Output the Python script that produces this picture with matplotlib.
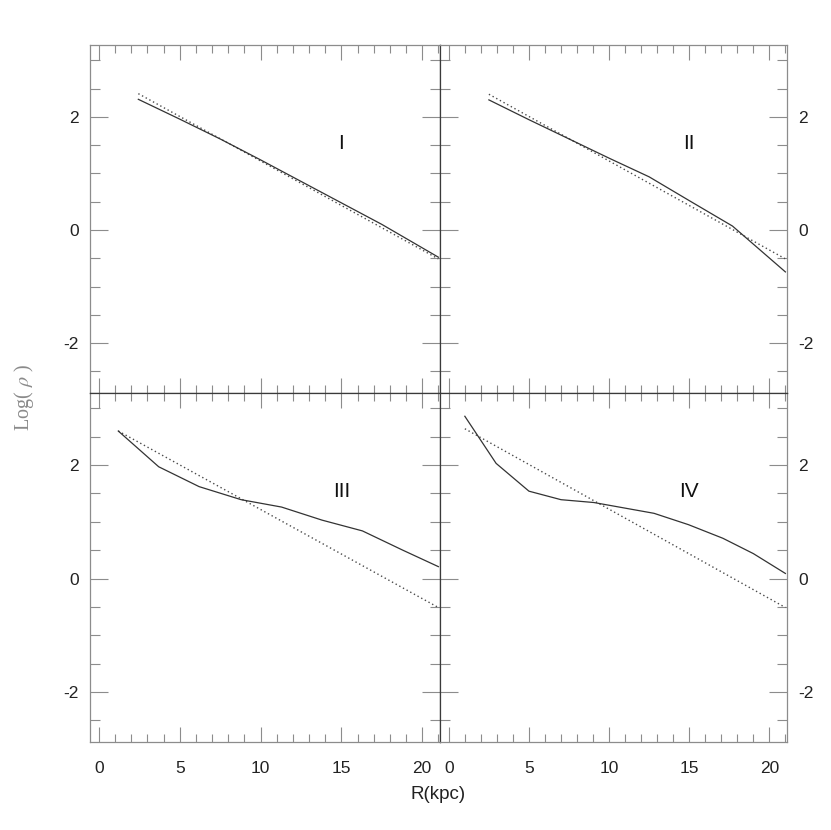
import matplotlib
matplotlib.use("Agg")
import matplotlib.pyplot as plt
from matplotlib.ticker import MultipleLocator

plt.rcParams['axes.unicode_minus'] = False
plt.rcParams['mathtext.fontset'] = 'stix'

panel_names = ["I", "II", "III", "IV"]

# solid curves (model profiles)
r_I = [2.44, 5.0, 7.5, 10.0, 12.5, 15.0, 17.5, 21.0]
rho_I = [2.31, 1.96, 1.61, 1.24, 0.86, 0.48, 0.10, -0.48]

r_II = [2.5, 5.0, 7.5, 10.0, 12.5, 15.0, 17.7, 21.0]
rho_II = [2.30, 1.95, 1.61, 1.27, 0.94, 0.52, 0.07, -0.74]

r_III = [1.2, 3.7, 6.2, 8.8, 11.3, 13.8, 16.3, 18.8, 21.0]
rho_III = [2.60, 1.97, 1.62, 1.39, 1.26, 1.03, 0.84, 0.50, 0.21]

r_IV = [1.0, 2.95, 5.0, 7.0, 9.05, 12.8, 14.95, 17.1, 19.0, 21.0]
rho_IV = [2.86, 2.03, 1.54, 1.39, 1.34, 1.15, 0.95, 0.71, 0.44, 0.09]

# dotted reference (exponential fit), same in all panels
fit_r_I = [2.44, 21.0]
fit_rho_I = [2.41, -0.51]
fit_r_II = [2.5, 21.0]
fit_rho_II = [2.40, -0.51]
fit_r_III = [1.2, 21.0]
fit_rho_III = [2.60, -0.51]
fit_r_IV = [1.0, 21.0]
fit_rho_IV = [2.64, -0.51]

solid = [(r_I, rho_I), (r_II, rho_II), (r_III, rho_III), (r_IV, rho_IV)]
dotted = [(fit_r_I, fit_rho_I), (fit_r_II, fit_rho_II),
          (fit_r_III, fit_rho_III), (fit_r_IV, fit_rho_IV)]

W, H = 831, 830
fig = plt.figure(figsize=(W / 100, H / 100), dpi=100)

x0, xm, x1 = 90 / W, 440 / W, 787 / W
y1, ym, y0 = 1 - 45 / H, 1 - 393 / H, 1 - 742 / H
rects = [
    [x0, ym, xm - x0, y1 - ym],
    [xm, ym, x1 - xm, y1 - ym],
    [x0, y0, xm - x0, ym - y0],
    [xm, y0, x1 - xm, ym - y0],
]

frame = '#8c8c8c'
inner = '#3a3a3a'
font = 'Liberation Sans'

for i, rect in enumerate(rects):
    ax = fig.add_axes(rect)
    rs, ps = solid[i]
    rd, pd = dotted[i]
    ax.plot(rd, pd, color='#4a4a4a', lw=1.0, linestyle=(0, (1, 2)))
    ax.plot(rs, ps, color='#333333', lw=0.9)
    ax.text(15.0, 1.53, panel_names[i], ha='center', va='center',
            fontsize=15, family=font, color='#111111')

    ax.set_xlim(-0.55, 21.1)
    ax.set_ylim(-2.88, 3.27)
    ax.xaxis.set_major_locator(MultipleLocator(5))
    ax.xaxis.set_minor_locator(MultipleLocator(1))
    ax.yaxis.set_major_locator(MultipleLocator(2))
    ax.yaxis.set_minor_locator(MultipleLocator(0.5))

    right = i % 2 == 1
    bottom = i >= 2
    ax.tick_params(which='both', direction='in', top=True, bottom=True,
                   left=True, right=True, color=frame, width=0.8,
                   labelleft=not right, labelright=right,
                   labelbottom=bottom, labeltop=False,
                   labelsize=12.5, labelcolor='#222222')
    ax.tick_params(axis='x', which='major', length=11, pad=14)
    ax.tick_params(axis='x', which='minor', length=6)
    ax.tick_params(axis='y', which='major', length=13, pad=8)
    ax.tick_params(axis='y', which='minor', length=7)
    for lab in ax.get_xticklabels() + ax.get_yticklabels():
        lab.set_family(font)

    for side, sp in ax.spines.items():
        sp.set_color(frame)
        sp.set_linewidth(0.9)
    if right:
        ax.spines['left'].set_color(inner)
    else:
        ax.spines['right'].set_color(inner)
    if bottom:
        ax.spines['top'].set_color(inner)
    else:
        ax.spines['bottom'].set_color(inner)

fig.text(438 / W, 1 - 794 / H, 'R(kpc)', ha='center', va='center',
         fontsize=13.5, family=font, color='#222222')
fig.text(24 / W, 1 - 397 / H, r'Log( $\rho$ )', ha='center', va='center',
         rotation=90, fontsize=14.5, family='Liberation Serif', color='#8a8a8a')

fig.savefig('out.png', dpi=100)
